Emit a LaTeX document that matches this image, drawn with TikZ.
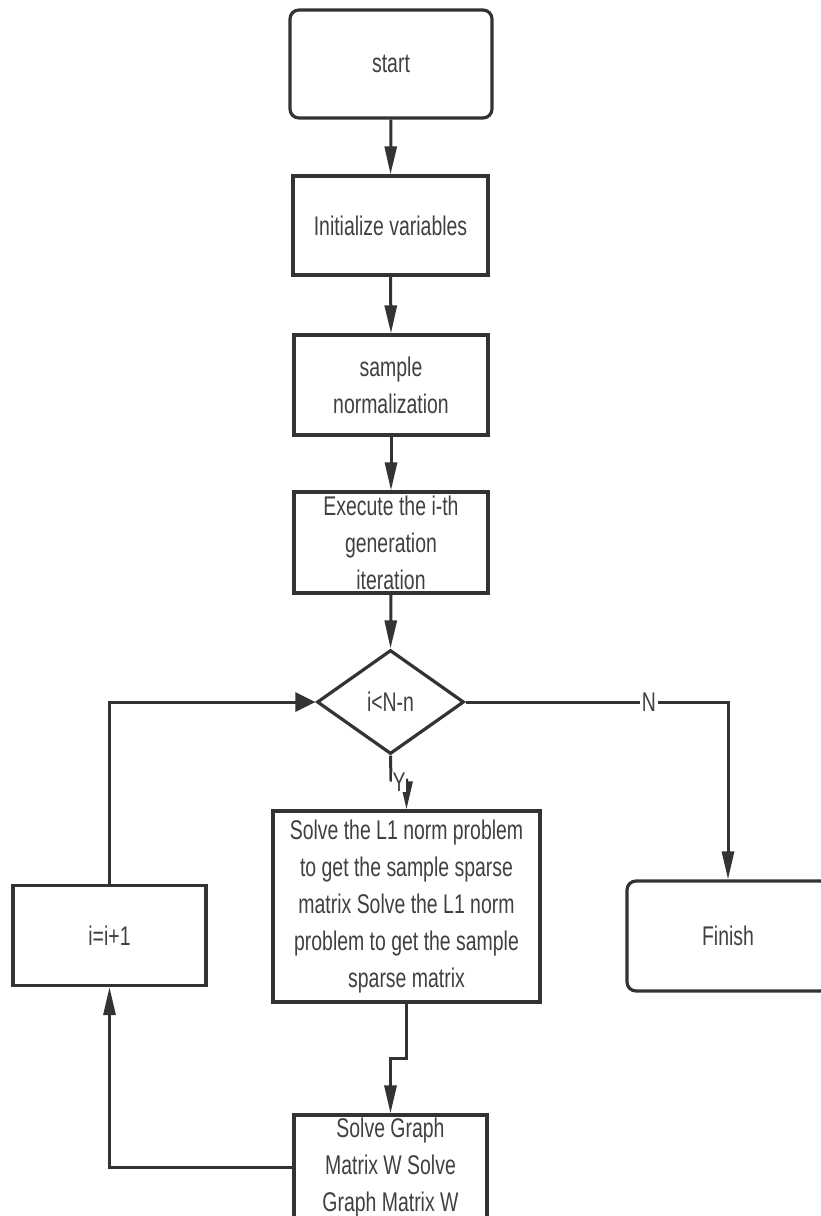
\documentclass[tikz,border=0pt]{standalone}
\usepackage{fontspec}
\setmainfont{Liberation Sans}[FakeStretch=0.72]
\usetikzlibrary{arrows.meta,shapes.geometric}
\definecolor{ln}{HTML}{333333}
\definecolor{tx}{HTML}{404040}
\begin{document}
\begin{tikzpicture}[x=1pt,y=-1pt,
  every node/.style={font=\fontsize{27}{37}\selectfont, text=tx, align=center},
  box/.style={draw=ln, line width=3.2pt, rectangle, inner sep=0pt},
  rbox/.style={box, rounded corners=9pt},
  txt/.style={inner sep=0pt},
  conn/.style={draw=ln, line width=3pt},
  vtip/.style={conn, -{Triangle[length=28pt,width=12pt]}},
  htip/.style={conn, -{Triangle[length=20pt,width=19pt]}},
  lbl/.style={fill=white, inner sep=2pt}
]
\useasboundingbox (0,0) rectangle (821,1216);
\fill[white] (0,0) rectangle (821,1216);

\node[rbox, minimum width=202pt, minimum height=108pt] (start) at (391,64) {start};
\node[box, minimum width=195pt, minimum height=99pt] (init) at (390.5,225.5) {Initialize variables};
\node[box, minimum width=194pt, minimum height=100pt] (norm) at (391,385) {sample\\normalization};
\node[txt] (exetxt) at (391,542.5) {Execute the i-th\\generation\\iteration};
\node[box, minimum width=194pt, minimum height=101pt] (exe) at (391,542.5) {};
\node[draw=ln, line width=3.2pt, diamond, inner sep=0pt, minimum width=147pt, minimum height=104pt] (dec) at (390.5,702) {i<N-n};
\node[box, minimum width=267pt, minimum height=191pt] (l1) at (406.5,906.5) {Solve the L1 norm problem\\to get the sample sparse\\matrix Solve the L1 norm\\problem to get the sample\\sparse matrix};
\node[txt] (grtxt) at (390.5,1167.5) {Solve Graph\\Matrix W Solve\\Graph Matrix W};
\node[box, minimum width=193pt, minimum height=105pt] (graph) at (390.5,1167.5) {};
\node[box, minimum width=193pt, minimum height=100pt] (inc) at (109.5,935.5) {i=i+1};
\node[rbox, minimum width=202pt, minimum height=110pt] (fin) at (728,936) {Finish};

\coordinate (ncorner) at (728,702);
\coordinate (ybend) at (391,780);
\coordinate (lbend) at (406.5,1058);

\draw[vtip] (start.south) -- (init.north);
\draw[vtip] (init.south) -- (norm.north);
\draw[vtip] (norm.south) -- (exe.north);
\draw[vtip] (exe.south) -- (dec.north);
\draw[vtip] (dec.east) -- (ncorner) -- (fin.north);
\node[lbl] (nlab) at (649,702) {N};
\draw[vtip] (dec.south) -- (ybend) -| (l1.north);
\node[lbl, inner sep=1pt] (ylab) at (399,782) {Y};
\draw[vtip] (l1.south) -- (lbend) -| (graph.north);
\draw[vtip] (graph.west) -| (inc.south);
\draw[htip] (inc.north) |- (dec.west);
\end{tikzpicture}
\end{document}
